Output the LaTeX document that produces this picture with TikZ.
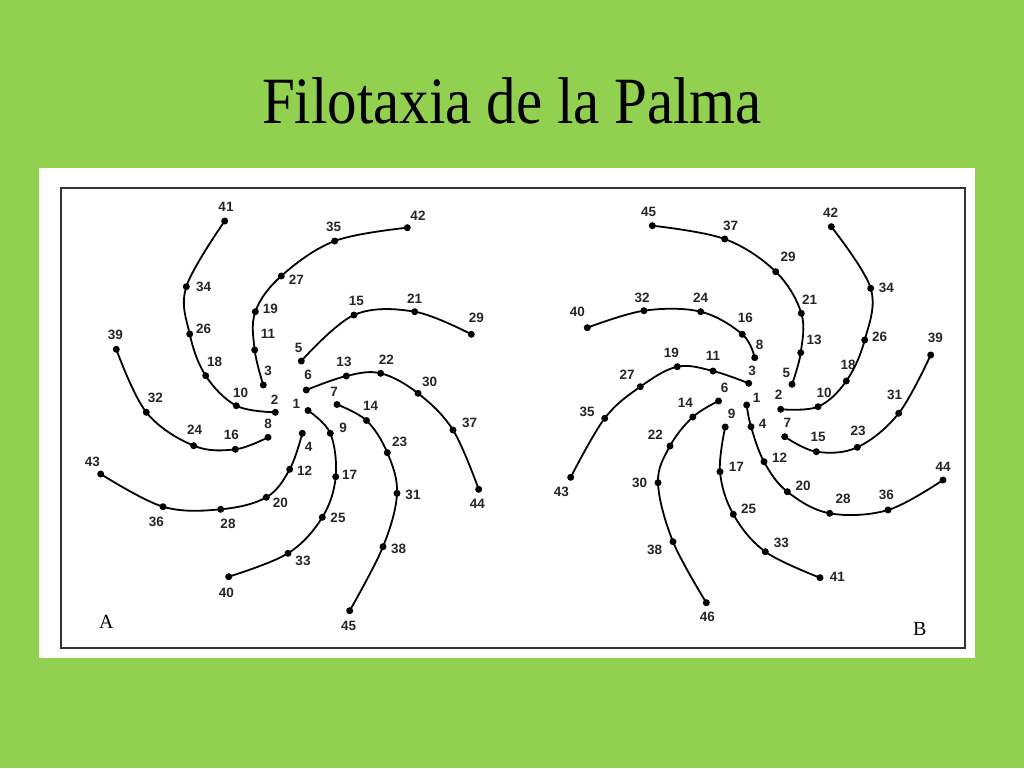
\documentclass[tikz,border=0pt]{standalone}
\usepackage{fontspec}
\setmainfont{Liberation Serif}
\newfontfamily\labfont{Liberation Sans}
\definecolor{slidegreen}{HTML}{92D050}
\definecolor{framegray}{HTML}{333333}
\begin{document}
\begin{tikzpicture}[x=1pt,y=-1pt,
  dot/.style={circle,fill=black,inner sep=0pt,minimum size=7pt},
  lab/.style={font=\labfont\bfseries\fontsize{13.5}{13.5}\selectfont,inner sep=0pt,text=black!85},
  curve/.style={line width=1.8pt,line cap=round},
  panel/.style={font=\fontsize{20}{20}\selectfont,inner sep=0pt}]
\fill[slidegreen] (0,0) rectangle (1024,768);
\useasboundingbox (0,0) rectangle (1024,768);
\node[font=\fontsize{59}{59}\selectfont,inner sep=0pt,anchor=base] (title) at (512,123) {\scalebox{1}[1.12]{Filotaxia de la Palma}};
\fill[white] (39,168) rectangle (975,658);
\draw[framegray,line width=1.3pt] (61,188) rectangle (965,648);
% panel A
\foreach \n/\x/\y/\lx/\ly in {
 41/224.7/221/226/207, 34/186.3/286.7/203.7/286.7, 26/189.7/334/203.7/329,
 18/205.7/375.7/214.7/362, 10/236.3/405.7/240.7/392.7, 2/275.3/412.3/274.7/399.3,
 42/407.3/227.7/418/215.7, 35/334.7/241/333.7/226.7, 27/281.3/276/296.3/280,
 19/255.3/311.7/270.3/309, 11/254.7/350/268/334.3, 3/263.3/385/268/371,
 29/471.3/334.3/476.3/318.3, 21/414.7/311.7/414.7/298.3, 15/354/315/356.3/301,
 5/301.3/361/298.7/347.7,
 6/306.3/390/308/375, 13/346.3/376/344/362.3, 22/380.7/373.3/386.3/360,
 30/418/393.3/429.7/381.7, 37/453/430/469.7/423.3, 44/478.7/489.3/477.3/504,
 7/337/404.5/334/391.7, 14/366.5/420.5/370.7/405.5, 23/387.3/452.7/399.7/441.7,
 31/397/493.3/413/495, 38/383/546.7/398.7/549.3, 45/349.7/610.7/348.7/626,
 1/308/410.5/296.3/403.5, 9/330.3/433.3/343/428.3, 17/335.7/476.7/349.7/475,
 25/322.3/517.3/338/518.3, 33/288/553.3/303/560.7, 40/228.7/576.7/226.3/592.7,
 4/302.3/433.3/308.7/446.7, 12/289.7/469.3/304.7/470.7, 20/266.3/497.3/280.3/502.7,
 28/220.7/509.3/228/524, 36/163/506.7/156.3/521.7, 43/100.7/474/92.3/461.7,
 8/268/437.3/268/424, 16/235.3/449.3/231.3/435, 24/193.7/445.7/194.7/430,
 32/146.3/412.3/155.3/398.3, 39/116.3/349.3/115.3/335}
 {\node[dot] (a\n) at (\x,\y) {}; \node[lab] (la\n) at (\lx,\ly) {\n};}
% panel B
\foreach \n/\x/\y/\lx/\ly in {
 45/652.3/225.7/648.7/211.7, 37/724.7/239/730.7/225.7, 29/775.7/271.7/788/256.7,
 21/801.3/313.3/809.7/300, 13/800.7/352.7/814/340, 5/792/384.3/786.3/373.3,
 42/831.3/226.7/830.7/212.3, 34/870.7/288.3/886.3/287.7, 26/864.7/340/879.7/336.7,
 18/846.3/381/848/365, 10/818/406.7/824/392.7, 2/780.7/409.3/778.7/395,
 39/930.7/355/935.3/338.3, 31/898.7/413.3/894.7/395, 23/857.3/447.3/858/430.7,
 15/816.3/451.7/818/436.7, 7/784.7/436.7/787.3/423.3,
 40/587.3/327.7/577.3/312.3, 32/644/310.7/642/297.7, 24/700.7/311.7/700.7/297.7,
 16/742.3/334.3/745.3/318.3, 8/754.7/357.7/759.7/345,
 3/748.7/383.3/752/371, 11/713/371/713/355.7, 19/677.3/366.7/671.3/353.3,
 27/640.3/386.7/627/375, 35/604.7/418.3/587/411.7, 43/570.7/477.3/561.3/491.7,
 6/718.5/401/724.7/388.3, 14/692.8/417/685.3/403.3, 22/670/446/655.3/435,
 30/658/482.7/639.7/482.7, 38/673/541.7/654.7/550, 46/706.3/602.7/707.3/617.3,
 9/725.2/427/731.5/414, 17/720/471.7/736.3/466.7, 25/733.3/514.3/748.7/509.3,
 33/765.3/551.7/781.3/542.7, 41/820/577.7/837.3/576.7,
 1/746.7/405/756.7/398.3, 4/751/426.7/762.7/424.3, 12/764/461.7/779.7/457.3,
 20/787.3/491.7/803/486, 28/829.7/513.3/843/499.3, 36/888/510/886.3/495,
 44/943/480/943/466.7}
 {\node[dot] (b\n) at (\x,\y) {}; \node[lab] (lb\n) at (\lx,\ly) {\n};}
% curves A
\draw[curve] plot[smooth,tension=0.6] coordinates {(a41.center) (a34.center) (a26.center) (a18.center) (a10.center) (a2.center)};
\draw[curve] plot[smooth,tension=0.6] coordinates {(a42.center) (a35.center) (a27.center) (a19.center) (a11.center) (a3.center)};
\draw[curve] plot[smooth,tension=0.6] coordinates {(a29.center) (a21.center) (a15.center) (a5.center)};
\draw[curve] plot[smooth,tension=0.6] coordinates {(a6.center) (a13.center) (a22.center) (a30.center) (a37.center) (a44.center)};
\draw[curve] plot[smooth,tension=0.6] coordinates {(a7.center) (a14.center) (a23.center) (a31.center) (a38.center) (a45.center)};
\draw[curve] plot[smooth,tension=0.6] coordinates {(a1.center) (a9.center) (a17.center) (a25.center) (a33.center) (a40.center)};
\draw[curve] plot[smooth,tension=0.6] coordinates {(a4.center) (a12.center) (a20.center) (a28.center) (a36.center) (a43.center)};
\draw[curve] plot[smooth,tension=0.6] coordinates {(a8.center) (a16.center) (a24.center) (a32.center) (a39.center)};
% curves B
\draw[curve] plot[smooth,tension=0.6] coordinates {(b45.center) (b37.center) (b29.center) (b21.center) (b13.center) (b5.center)};
\draw[curve] plot[smooth,tension=0.6] coordinates {(b42.center) (b34.center) (b26.center) (b18.center) (b10.center) (b2.center)};
\draw[curve] plot[smooth,tension=0.6] coordinates {(b39.center) (b31.center) (b23.center) (b15.center) (b7.center)};
\draw[curve] plot[smooth,tension=0.6] coordinates {(b40.center) (b32.center) (b24.center) (b16.center) (b8.center)};
\draw[curve] plot[smooth,tension=0.6] coordinates {(b3.center) (b11.center) (b19.center) (b27.center) (b35.center) (b43.center)};
\draw[curve] plot[smooth,tension=0.6] coordinates {(b6.center) (b14.center) (b22.center) (b30.center) (b38.center) (b46.center)};
\draw[curve] plot[smooth,tension=0.6] coordinates {(b9.center) (b17.center) (b25.center) (b33.center) (b41.center)};
\draw[curve] plot[smooth,tension=0.6] coordinates {(b1.center) (b4.center) (b12.center) (b20.center) (b28.center) (b36.center) (b44.center)};
\node[panel] (pA) at (106.3,621.7) {A};
\node[panel] (pB) at (919.7,629.3) {B};
\end{tikzpicture}
\end{document}
